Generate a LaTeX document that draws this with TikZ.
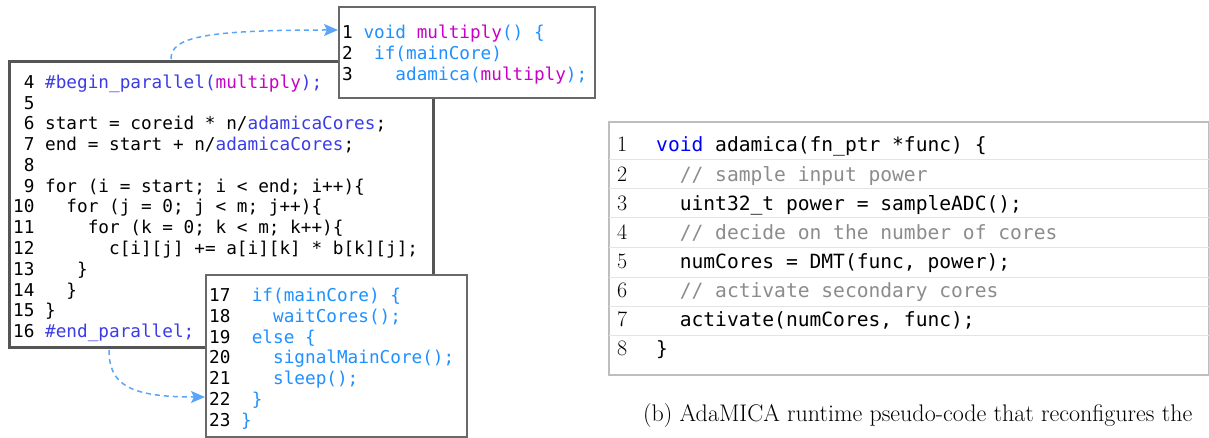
\documentclass[tikz,border=0pt]{standalone}
\usepackage{fontspec}
\usetikzlibrary{arrows.meta}
\newfontfamily\codefont{DejaVu Sans Mono}
\definecolor{cblue}{RGB}{60,60,230}
\definecolor{cmag}{RGB}{200,0,200}
\definecolor{clight}{RGB}{30,144,255}
\definecolor{carrow}{RGB}{90,165,250}
\definecolor{rblue}{RGB}{0,0,255}
\definecolor{cgray}{RGB}{140,140,140}
\definecolor{mainframe}{RGB}{85,85,85}
\definecolor{subframe}{RGB}{105,105,105}
\definecolor{rframe}{RGB}{190,190,190}
\definecolor{rsep}{RGB}{228,228,228}
\tikzset{
  frame/.style={draw, fill=white, inner sep=0pt, outer sep=0pt, anchor=north west},
  lcode/.style={anchor=base west, inner sep=0pt, font=\codefont\fontsize{17.7}{20}\selectfont},
  rcode/.style={anchor=base west, inner sep=0pt, font=\codefont\fontsize{19.6}{22}\selectfont},
  rnum/.style={anchor=base west, inner sep=0pt, font=\fontsize{22}{24}\selectfont},
  flow/.style={draw=carrow, line width=1.5pt, dash pattern=on 5pt off 4pt, -{Stealth[length=14pt,width=12pt,inset=3pt]}},
}
\begin{document}
\begin{tikzpicture}[x=1pt,y=-1pt]
\useasboundingbox (0,0) rectangle (1209,438);
% ---- main box ----
\node[frame, draw=mainframe, line width=3pt, minimum width=424pt, minimum height=285pt] (mainbox) at (9,62) {};
\node[lcode] (m4) at (13,88.5) {~4~\textcolor{cblue}{\#begin\_parallel(}\textcolor{cmag}{multiply}\textcolor{cblue}{);}};
\node[lcode] (m5) at (13,109.25) {~5};
\node[lcode] (m6) at (13,130) {~6~start~=~coreid~*~n/\textcolor{cblue}{adamicaCores};};
\node[lcode] (m7) at (13,150.75) {~7~end~=~start~+~n/\textcolor{cblue}{adamicaCores};};
\node[lcode] (m8) at (13,171.5) {~8};
\node[lcode] (m9) at (13,192.25) {~9~for~(i~=~start;~i~<~end;~i++)\{};
\node[lcode] (m10) at (13,213) {10~~~for~(j~=~0;~j~<~m;~j++)\{};
\node[lcode] (m11) at (13,233.75) {11~~~~~for~(k~=~0;~k~<~m;~k++)\{};
\node[lcode] (m12) at (13,254.5) {12~~~~~~~c[i][j]~+=~a[i][k]~*~b[k][j];};
\node[lcode] (m13) at (13,275.25) {13~~~~\}};
\node[lcode] (m14) at (13,296) {14~~~\}};
\node[lcode] (m15) at (13,316.75) {15~\}};
\node[lcode] (m16) at (13,337.5) {16~\textcolor{cblue}{\#end\_parallel;}};
% ---- top box ----
\node[frame, draw=subframe, line width=2pt, minimum width=256pt, minimum height=91pt] (topbox) at (339,7) {};
\node[lcode] (t1) at (342,38.5) {1~\textcolor{clight}{void}~\textcolor{cmag}{multiply}\textcolor{clight}{()~\{}};
\node[lcode] (t2) at (342,59.5) {2~~\textcolor{clight}{if(mainCore)}};
\node[lcode] (t3) at (342,80.5) {3~~~~\textcolor{clight}{adamica(}\textcolor{cmag}{multiply}\textcolor{clight}{);}};
% ---- bottom box ----
\node[frame, draw=subframe, line width=2pt, minimum width=261pt, minimum height=162pt] (botbox) at (206,275) {};
\node[lcode] (b17) at (209,301.5) {17~~\textcolor{clight}{if(mainCore)~\{}};
\node[lcode] (b18) at (209,322.3) {18~~~~\textcolor{clight}{waitCores();}};
\node[lcode] (b19) at (209,343.1) {19~~\textcolor{clight}{else~\{}};
\node[lcode] (b20) at (209,363.9) {20~~~~\textcolor{clight}{signalMainCore();}};
\node[lcode] (b21) at (209,384.7) {21~~~~\textcolor{clight}{sleep();}};
\node[lcode] (b22) at (209,405.5) {22~~\textcolor{clight}{\}}};
\node[lcode] (b23) at (209,426.3) {23~\textcolor{clight}{\}}};
% ---- arrows ----
\coordinate (s1) at (171,59);
\coordinate (e1) at (338,30);
\draw[flow] (s1) .. controls (171,38) and (200,30) .. (e1);
\coordinate (s2) at (109,350);
\coordinate (e2) at (205,397);
\draw[flow] (s2) .. controls (109,385) and (130,397) .. (e2);
% ---- right box ----
\node[frame, draw=rframe, line width=2.5pt, minimum width=600pt, minimum height=253pt] (rbox) at (609,122) {};
\foreach \yy in {160,189,218,248,277,306,335} \draw[rsep, line width=1pt] (rbox.west |- 0,\yy) -- (rbox.east |- 0,\yy);
\foreach \i/\yy in {1/152,2/181.1,3/210.2,4/239.3,5/268.4,6/297.5,7/326.6,8/355.7} \node[rnum] (n\i) at (617,\yy) {\i};
\node[rcode] (r1) at (656,152) {\textcolor{rblue}{void}~adamica(fn\_ptr~*func)~\{};
\node[rcode] (r2) at (656,181.1) {~~\textcolor{cgray}{//~sample~input~power}};
\node[rcode] (r3) at (656,210.2) {~~uint32\_t~power~=~sampleADC();};
\node[rcode] (r4) at (656,239.3) {~~\textcolor{cgray}{//~decide~on~the~number~of~cores}};
\node[rcode] (r5) at (656,268.4) {~~numCores~=~DMT(func,~power);};
\node[rcode] (r6) at (656,297.5) {~~\textcolor{cgray}{//~activate~secondary~cores}};
\node[rcode] (r7) at (656,326.6) {~~activate(numCores,~func);};
\node[rcode] (r8) at (656,355.7) {\}};
% ---- caption ----
\node[anchor=base west, inner sep=0pt, font=\fontsize{24}{27}\selectfont] (cap) at (643,421) {(b) AdaMICA runtime pseudo-code that reconfigures the};
\end{tikzpicture}
\end{document}
